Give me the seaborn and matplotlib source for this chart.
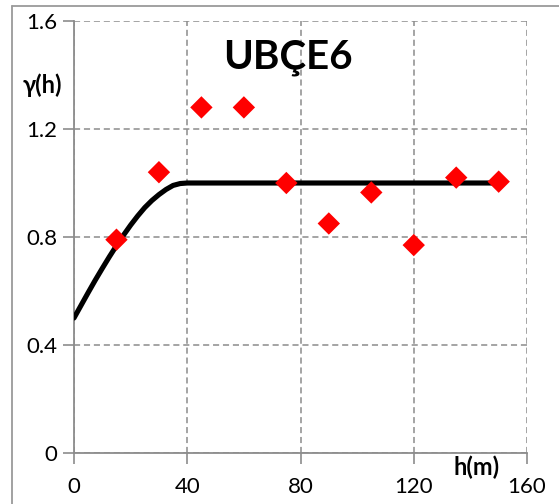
import matplotlib
matplotlib.use("Agg")
import matplotlib.pyplot as plt
from matplotlib.lines import Line2D
import seaborn as sns
import pandas as pd

# Experimental semivariogram (lag distance in m, semivariance)
lag_h = [15, 30, 45, 60, 75, 90, 105, 120, 135, 150]
gamma_exp = [0.79, 1.04, 1.28, 1.28, 1.00, 0.85, 0.965, 0.77, 1.02, 1.005]

# Fitted model curve (nugget 0.5, sill 1.0 reached at 40 m)
model_h = [0, 2.5, 5, 7.5, 10, 12.5, 15, 17.5, 20, 22.5, 25, 27.5, 30,
           32.5, 35, 37.5, 40, 150]
model_gamma = [0.50, 0.547, 0.594, 0.640, 0.684, 0.727, 0.768, 0.807,
               0.844, 0.878, 0.909, 0.935, 0.957, 0.976, 0.991, 0.998,
               1.00, 1.00]

x_ticks = [0, 40, 80, 120, 160]
y_ticks = [0, 0.4, 0.8, 1.2, 1.6]
y_tick_labels = ["0", "0.4", "0.8", "1.2", "1.6"]

title_text = "UBÇE6"
x_label = "h(m)"
y_label = "γ(h)"

sns.set_theme(style="white")
plt.rcParams["font.family"] = ["Lato", "DejaVu Sans"]

fig = plt.figure(figsize=(5.59, 5.04), dpi=100)
ax = fig.add_axes([74 / 559, 1 - 453 / 504, (527 - 74) / 559, (453 - 21) / 504])

grid_color = "#8c8c8c"

model_df = pd.DataFrame({"h": model_h, "gamma": model_gamma})
exp_df = pd.DataFrame({"h": lag_h, "gamma": gamma_exp})

sns.lineplot(data=model_df, x="h", y="gamma", ax=ax, color="black",
             linewidth=3.7, zorder=3)
sns.scatterplot(data=exp_df, x="h", y="gamma", ax=ax, marker="D",
                color="#ff0000", s=130, edgecolor="none", zorder=4)

ax.set_xlim(0, 160)
ax.set_ylim(0, 1.6)
ax.set_xticks(x_ticks)
ax.set_yticks(y_ticks)
ax.set_yticklabels(y_tick_labels)
ax.set_xlabel("")
ax.set_ylabel("")

ax.grid(True, color=grid_color, linestyle=(0, (4, 2.5)), linewidth=1.1)
ax.set_axisbelow(True)

for side in ("top", "right"):
    ax.spines[side].set_visible(False)
for side in ("left", "bottom"):
    ax.spines[side].set_visible(True)
    ax.spines[side].set_color(grid_color)
    ax.spines[side].set_linewidth(1.3)

ax.tick_params(axis="both", which="major", direction="out", length=8,
               width=1.2, color=grid_color, labelsize=16, labelcolor="black",
               left=True, bottom=True)
ax.tick_params(axis="x", pad=9)
ax.tick_params(axis="y", pad=4)

fig.text(288 / 559, 1 - 57 / 504, title_text, ha="center", va="center",
         fontsize=29, fontweight="bold", color="black")
fig.text(42 / 559, 1 - 85 / 504, y_label, ha="center", va="center",
         fontsize=17, fontweight="bold", color="black")
fig.text(477 / 559, 1 - 467 / 504, x_label, ha="center", va="center",
         fontsize=17, fontweight="bold", color="black")

# Outer chart frame (top and left edges)
fig.add_artist(Line2D([12 / 559, 1.0], [1 - 6 / 504, 1 - 6 / 504],
                      transform=fig.transFigure, color="#9a9a9a", linewidth=1.3))
fig.add_artist(Line2D([12 / 559, 12 / 559], [0.0, 1 - 6 / 504],
                      transform=fig.transFigure, color="#9a9a9a", linewidth=1.3))

fig.savefig("out.png", dpi=100)
